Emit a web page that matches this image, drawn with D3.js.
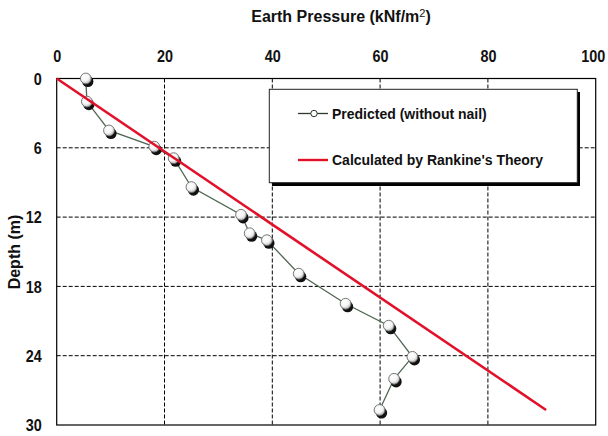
<!DOCTYPE html>
<html>
<head>
<meta charset="utf-8">
<script src="https://cdn.jsdelivr.net/npm/d3@7"></script>
<style>
  html, body { margin: 0; padding: 0; background: #fff; }
  svg { display: block; }
  .tick-label { font-family: "Liberation Sans", Arial, sans-serif; font-weight: bold; font-size: 16px; fill: #111; }
  .title { font-family: "Liberation Sans", Arial, sans-serif; font-weight: bold; font-size: 16px; fill: #111; }
  .legend-text { font-family: "Liberation Sans", Arial, sans-serif; font-weight: bold; font-size: 14px; fill: #111; }
</style>
</head>
<body>
<svg id="chart" width="608" height="436"></svg>
<script>
// ---- Data ----
const predictedDepth    = [0, 2.0, 4.5, 5.9, 6.9, 9.4, 11.8, 13.4, 14.0, 16.9, 19.5, 21.4, 24.1, 26.0, 28.7];
const predictedPressure = [5.4, 5.6, 9.7, 18.1, 21.7, 25.0, 34.2, 35.8, 39.0, 44.9, 53.6, 61.6, 66.0, 62.6, 59.9];
const rankineDepth      = [0, 28.7];
const rankinePressure   = [0, 90.8];
const xTicks = [0, 20, 40, 60, 80, 100];
const yTicks = [0, 6, 12, 18, 24, 30];
const seriesNames = ["Predicted (without nail)", "Calculated by Rankine's Theory"];
const xTitle = "Earth Pressure (kNf/m";
const yTitle = "Depth (m)";

// ---- Layout ----
const svg = d3.select("#chart");
const L = 56.7, R = 595.7, T = 78.5, B = 425;
const x = d3.scaleLinear().domain([0, 100]).range([L, R]);
const y = d3.scaleLinear().domain([0, 30]).range([T, B]);

const defs = svg.append("defs");
const grad = defs.append("radialGradient").attr("id", "mk").attr("cx", "40%").attr("cy", "35%").attr("r", "65%");
grad.append("stop").attr("offset", "0%").attr("stop-color", "#ffffff");
grad.append("stop").attr("offset", "60%").attr("stop-color", "#f4f4f4");
grad.append("stop").attr("offset", "100%").attr("stop-color", "#b8b8b8");

// grid lines
const grid = svg.append("g");
grid.selectAll(".vg").data(xTicks.slice(1, -1)).join("line")
  .attr("x1", d => x(d)).attr("x2", d => x(d)).attr("y1", T).attr("y2", B)
  .attr("stroke", "#000").attr("stroke-width", 1).attr("stroke-dasharray", "4,2");
grid.selectAll(".hg").data(yTicks.slice(1, -1)).join("line")
  .attr("x1", L).attr("x2", R).attr("y1", d => y(d)).attr("y2", d => y(d))
  .attr("stroke", "#000").attr("stroke-width", 1).attr("stroke-dasharray", "4,2");

// axes (top and left) via d3 axes, condensed bold labels
const xAxis = d3.axisTop(x).tickValues(xTicks).tickSize(0).tickPadding(17);
const gx = svg.append("g").attr("transform", `translate(0,${T})`).call(xAxis);
gx.select(".domain").remove();
gx.selectAll("text").attr("class", "tick-label").attr("font-size", null).attr("font-family", null)
  .attr("transform", (d, i) => (i === xTicks.length - 1 ? "translate(-3,0) " : "") + "scale(0.9,1)");

const yAxis = d3.axisLeft(y).tickValues(yTicks).tickSize(0).tickPadding(0);
const gy = svg.append("g").attr("transform", `translate(${L},0)`).call(yAxis);
gy.select(".domain").remove();
gy.selectAll("text").attr("class", "tick-label").attr("font-size", null).attr("font-family", null)
  .attr("x", 0).attr("dy", "0.36em").attr("transform", "translate(-15,0) scale(0.9,1)");

// plot border
svg.append("rect").attr("x", L).attr("y", T).attr("width", R - L).attr("height", B - T)
  .attr("fill", "none").attr("stroke", "#000").attr("stroke-width", 1.2);

// predicted series
const pts = predictedDepth.map((d, i) => ({ d, p: predictedPressure[i] }));
const line = d3.line().x(v => x(v.p)).y(v => y(v.d));
svg.append("path").datum(pts).attr("d", line)
  .attr("fill", "none").attr("stroke", "#4f6650").attr("stroke-width", 1.3);
const mk = svg.append("g");
mk.selectAll(".sh").data(pts).join("circle")
  .attr("cx", v => x(v.p) + 2).attr("cy", v => y(v.d) + 3).attr("r", 5.6).attr("fill", "#111");
mk.selectAll(".pt").data(pts).join("circle")
  .attr("cx", v => x(v.p)).attr("cy", v => y(v.d)).attr("r", 5.4)
  .attr("fill", "url(#mk)").attr("stroke", "#6a6a6a").attr("stroke-width", 0.9);

// Rankine line
const rk = rankineDepth.map((d, i) => ({ d, p: rankinePressure[i] }));
svg.append("path").datum(rk).attr("d", line)
  .attr("fill", "none").attr("stroke", "#e3102a").attr("stroke-width", 2.6);

// titles
const t = svg.append("text").attr("class", "title").attr("x", 341).attr("y", 22).attr("text-anchor", "middle");
t.append("tspan").text(xTitle);
t.append("tspan").text("2").attr("font-size", "11px").attr("font-weight", "normal").attr("dy", "-5");
t.append("tspan").text(")").attr("dy", "5");

svg.append("text").attr("class", "title").attr("font-size", "16px")
  .attr("transform", "translate(20,252) rotate(-90)").attr("text-anchor", "middle").text(yTitle);

// legend
const lg = svg.append("g");
lg.append("rect").attr("x", 272).attr("y", 92).attr("width", 308).attr("height", 94).attr("fill", "#000");
lg.append("rect").attr("x", 269.3).attr("y", 89.3).attr("width", 308).attr("height", 93.4)
  .attr("fill", "#fff").attr("stroke", "#222").attr("stroke-width", 1);
lg.append("line").attr("x1", 298).attr("x2", 328).attr("y1", 113.5).attr("y2", 113.5)
  .attr("stroke", "#2d3a2d").attr("stroke-width", 1.3);
lg.append("circle").attr("cx", 314).attr("cy", 113.5).attr("r", 3.2)
  .attr("fill", "#fff").attr("stroke", "#333").attr("stroke-width", 1);
lg.append("text").attr("class", "legend-text").attr("x", 332).attr("y", 118.5).text(seriesNames[0]);
lg.append("line").attr("x1", 298).attr("x2", 328).attr("y1", 160).attr("y2", 160)
  .attr("stroke", "#e3102a").attr("stroke-width", 2.4);
lg.append("text").attr("class", "legend-text").attr("x", 332).attr("y", 165).text(seriesNames[1]);
</script>
</body>
</html>
